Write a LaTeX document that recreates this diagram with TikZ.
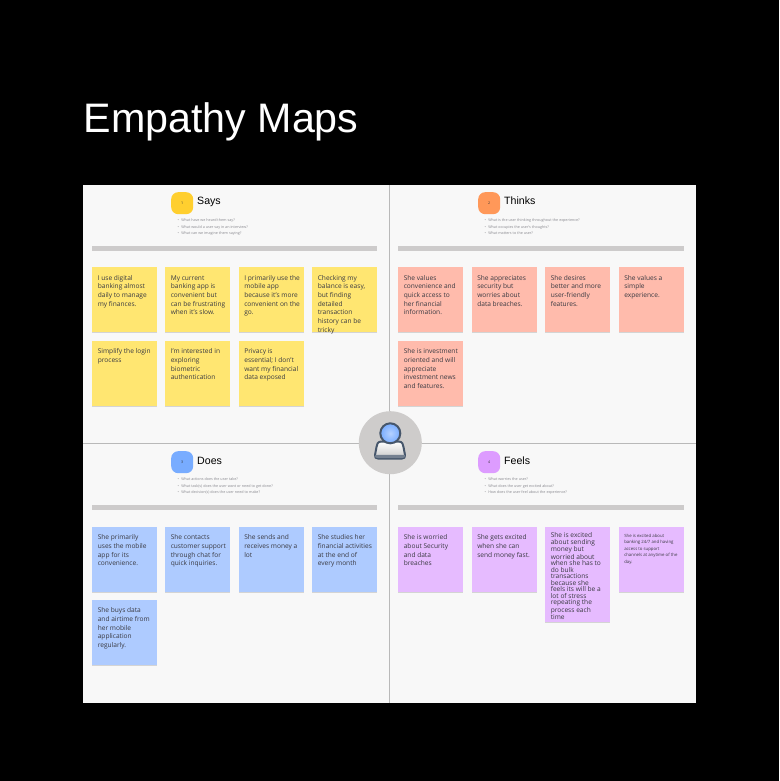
\documentclass[tikz,border=0pt]{standalone}
\usepackage{fontspec}
\setmainfont{Open Sans}
\newfontfamily\titlefont{Liberation Sans}
\usetikzlibrary{shadows}
\definecolor{panelbg}{HTML}{F8F8F8}
\definecolor{divider}{HTML}{B9B9B9}
\definecolor{barc}{HTML}{CDCBCB}
\definecolor{hubc}{HTML}{CECCCB}
\definecolor{noteY}{HTML}{FFE671}
\definecolor{noteR}{HTML}{FFBBAC}
\definecolor{noteB}{HTML}{AECBFF}
\definecolor{noteP}{HTML}{E6BBFF}
\definecolor{badgeY}{HTML}{FFCF2F}
\definecolor{badgeR}{HTML}{FF9859}
\definecolor{badgeB}{HTML}{78ACFF}
\definecolor{badgeP}{HTML}{DD9CFF}
\definecolor{icond}{HTML}{46566B}
\definecolor{inkc}{HTML}{3A3A42}
\definecolor{subc}{HTML}{8A8A90}
\tikzset{
  x=1pt,y=-1pt,
  panel/.style={fill=panelbg,draw=none,anchor=north west,inner sep=0pt},
  note/.style={anchor=north west,inner sep=0pt,text=inkc,
    font=\fontsize{6.6}{8.67}\selectfont,drop shadow={shadow xshift=0pt,shadow yshift=-1pt,opacity=0.14,fill=black}},
  badge/.style={anchor=north west,rounded corners=7pt,minimum width=22pt,minimum height=22pt,inner sep=0pt,font=\fontsize{3.6}{4}\selectfont,text=black!80},
  headt/.style={anchor=base west,inner sep=0pt,font=\titlefont\fontsize{10.6}{12}\selectfont,text=black},
  prompts/.style={anchor=north west,inner sep=0pt,align=left,text=subc,font=\fontsize{3.7}{6.5}\selectfont},
  barr/.style={fill=barc,draw=none}
}
\newcommand{\panelbox}[5]{\node[panel,minimum width=#3pt,minimum height=#4pt] (#5) at (#1,#2) {};}
% note body: height, first-baseline drop, text
\newcommand{\nt}[3]{\parbox[t][#1pt][t]{65pt}{\leftskip=5.6pt\rightskip=-6pt plus 1fil\hyphenpenalty=10000\exhyphenpenalty=10000\parindent=0pt\rule{0pt}{#2pt}#3}}
\begin{document}
\begin{tikzpicture}
\useasboundingbox (0,0) rectangle (779,781);
\fill[black] (0,0) rectangle (779,781);
\node[anchor=base west,inner sep=0pt,text=white,font=\titlefont\fontsize{41.2}{48}\selectfont] (title) at (83.5,132) {Empathy Maps};

\panelbox{83}{185}{306.5}{258.5}{p1}
\panelbox{390}{185}{306}{258.5}{p2}
\panelbox{83}{444}{306.5}{259}{p3}
\panelbox{390}{444}{306}{259}{p4}
\fill[divider] (83,443.2) rectangle (696,444.4);
\fill[divider] (389.3,185) rectangle (390.4,703);

% headers
\node[badge,fill=badgeY] (b1) at (171,192) {1};
\node[headt] (h1) at (197,204.5) {Says};
\node[prompts] (q1) at (177.5,218.5) {•\hspace{1.2pt} What have we heard them say?\\•\hspace{1.2pt} What would a user say in an interview?\\•\hspace{1.2pt} What can we imagine them saying?};
\fill[barr] (91.5,246.2) rectangle (377,251);

\node[badge,fill=badgeR] (b2) at (478,192) {2};
\node[headt] (h2) at (504,204.5) {Thinks};
\node[prompts] (q2) at (484.5,218.5) {•\hspace{1.2pt} What is the user thinking throughout the experience?\\•\hspace{1.2pt} What occupies the user's thoughts?\\•\hspace{1.2pt} What matters to the user?};
\fill[barr] (398,246.2) rectangle (683.5,251);

\node[badge,fill=badgeB] (b3) at (171,451) {3};
\node[headt] (h3) at (197,464) {Does};
\node[prompts] (q3) at (177.5,477.5) {•\hspace{1.2pt} What actions does the user take?\\•\hspace{1.2pt} What task(s) does the user want or need to get done?\\•\hspace{1.2pt} What decision(s) does the user need to make?};
\fill[barr] (91.5,505.3) rectangle (377,510);

\node[badge,fill=badgeP] (b4) at (478,451) {4};
\node[headt] (h4) at (504,464) {Feels};
\node[prompts] (q4) at (484.5,477.5) {•\hspace{1.2pt} What worries the user?\\•\hspace{1.2pt} What does the user get excited about?\\•\hspace{1.2pt} How does the user feel about the experience?};
\fill[barr] (398,505.3) rectangle (683.5,510);

% Says
\node[note,fill=noteY] (s1) at (92,267) {\nt{65}{13}{I use digital\\banking almost\\daily to manage\\my finances.}};
\node[note,fill=noteY] (s2) at (165,267) {\nt{65}{13}{My current\\banking app is\\convenient but\\can be frustrating\\when it's slow.}};
\node[note,fill=noteY] (s3) at (238.5,267) {\nt{65}{13}{I primarily use the\\mobile app\\because it's more\\convenient on the\\go.}};
\node[note,fill=noteY] (s4) at (312,267) {\nt{65}{13}{Checking my\\balance is easy,\\but finding\\detailed\\transaction\\history can be\\tricky}};
\node[note,fill=noteY] (s5) at (92,340.5) {\nt{65}{13}{Simplify the login\\process}};
\node[note,fill=noteY] (s6) at (165,340.5) {\nt{65}{13}{I'm interested in\\exploring\\biometric\\authentication}};
\node[note,fill=noteY] (s7) at (238.5,340.5) {\nt{65}{13}{Privacy is\\essential; I don't\\want my financial\\data exposed}};

% Thinks
\node[note,fill=noteR] (t1) at (398,267) {\nt{65}{13}{She values\\convenience and\\quick access to\\her financial\\information.}};
\node[note,fill=noteR] (t2) at (471.5,267) {\nt{65}{13}{She appreciates\\security but\\worries about\\data breaches.}};
\node[note,fill=noteR] (t3) at (545,267) {\nt{65}{13}{She desires\\better and more\\user-friendly\\features.}};
\node[note,fill=noteR] (t4) at (618.5,267) {\nt{65}{13}{She values a\\simple\\experience.}};
\node[note,fill=noteR] (t5) at (398,340.5) {\nt{65}{13}{She is investment\\oriented and will\\appreciate\\investment news\\and features.}};

% Does
\node[note,fill=noteB] (d1) at (92,526.5) {\nt{65}{13}{She primarily\\uses the mobile\\app for its\\convenience.}};
\node[note,fill=noteB] (d2) at (165,526.5) {\nt{65}{13}{She contacts\\customer support\\through chat for\\quick inquiries.}};
\node[note,fill=noteB] (d3) at (238.5,526.5) {\nt{65}{13}{She sends and\\receives money a\\lot}};
\node[note,fill=noteB] (d4) at (312,526.5) {\nt{65}{13}{She studies her\\financial activities\\at the end of\\every month}};
\node[note,fill=noteB] (d5) at (92,599.5) {\nt{65}{13}{She buys data\\and airtime from\\her mobile\\application\\regularly.}};

% Feels
\node[note,fill=noteP] (f1) at (398,526.5) {\nt{65}{13}{She is worried\\about Security\\and data\\breaches}};
\node[note,fill=noteP] (f2) at (471.5,526.5) {\nt{65}{13}{She gets excited\\when she can\\send money fast.}};
\node[note,fill=noteP,font=\fontsize{6.6}{6.5}\selectfont] (f3) at (545,526.5) {\nt{95.5}{11}{She is excited\\about sending\\money but\\worried about\\when she has to\\do bulk\\transactions\\because she\\feels its will be a\\lot of stress\\repeating the\\process each\\time}};
\node[note,fill=noteP,font=\fontsize{4.3}{6.5}\selectfont] (f4) at (618.5,526.5) {\nt{65}{10.5}{She is excited about\\banking 24/7 and having\\access to support\\channels at anytime of the\\day.}};

% centre hub
\node[circle,fill=hubc,minimum size=63pt,inner sep=0pt] (hub) at (390.3,442.7) {};
\draw[top color=white,bottom color=black!22,draw=icond,line width=2pt,line join=round]
  (381,441.5) .. controls (377.5,442) and (377,444) .. (376.5,447) -- (375,455)
  .. controls (374.6,457.5) and (376,458.5) .. (378,458.5) -- (402,458.5)
  .. controls (404,458.5) and (405.4,457.5) .. (405,455) -- (403.5,447)
  .. controls (403,444) and (402.5,442) .. (399,441.5) -- cycle;
\fill[icond!75] (376,454.8) -- (404.6,454.8) -- (405,456) .. controls (405.2,457.5) and (404,458) .. (402,458) -- (378,458) .. controls (376,458) and (374.8,457.5) .. (375,456) -- cycle;
\node[circle,draw=icond,line width=2pt,inner color=badgeB!55!white,outer color=badgeB,minimum size=20pt,inner sep=0pt] (head) at (390.3,433.3) {};
\end{tikzpicture}
\end{document}
